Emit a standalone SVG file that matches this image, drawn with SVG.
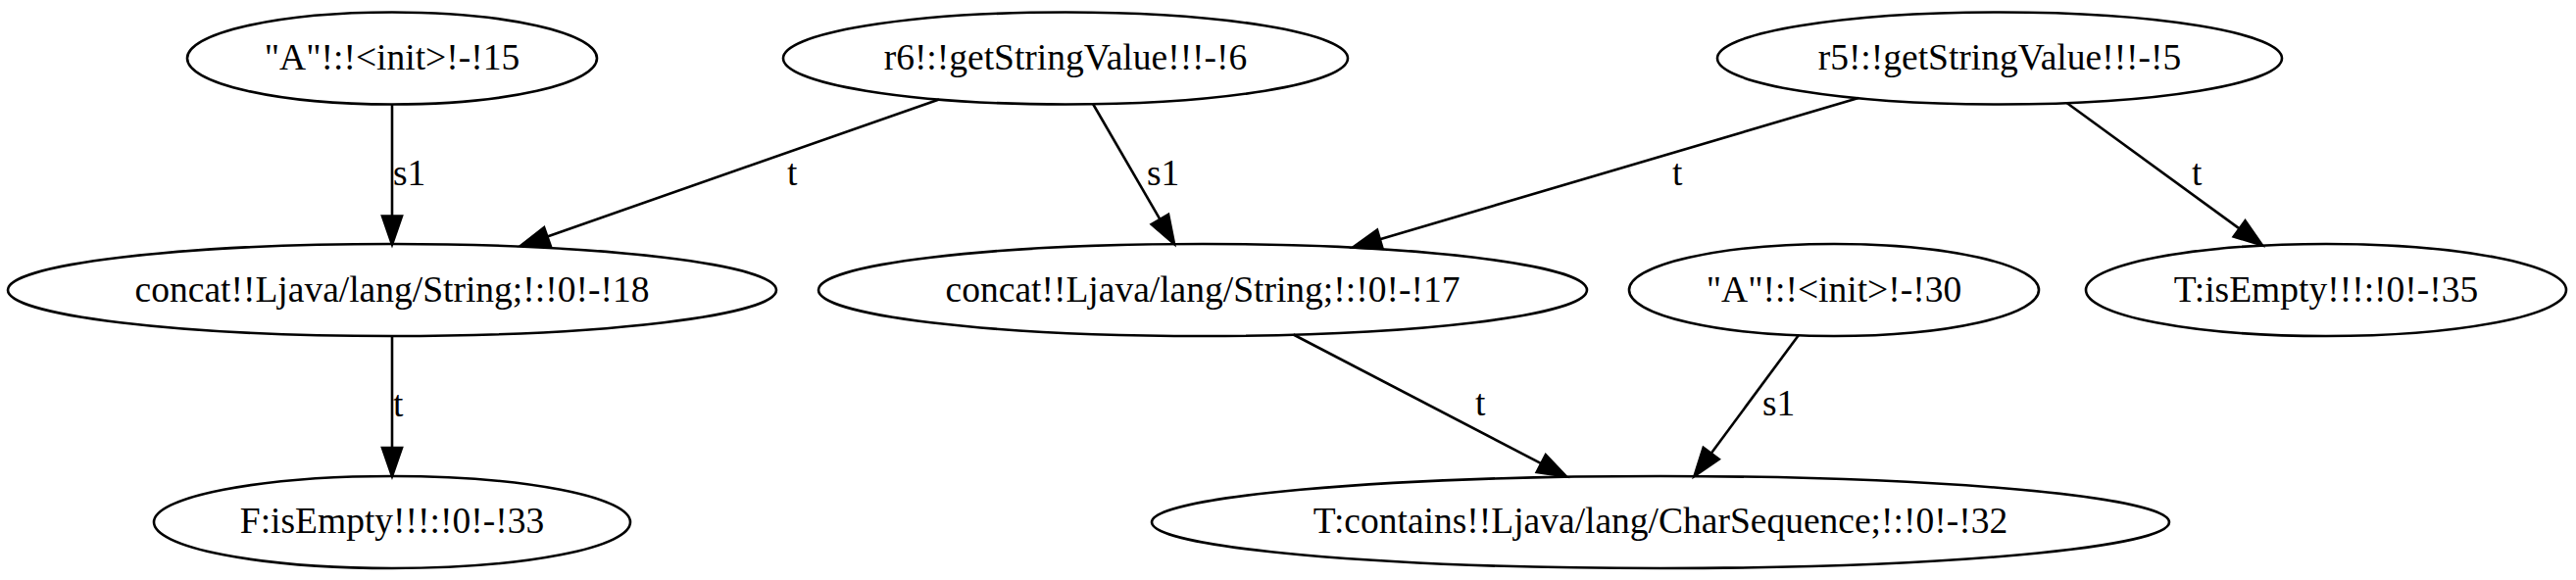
<svg xmlns="http://www.w3.org/2000/svg" width="2628" height="592" viewBox="0 0 2628 592">
<style>
.n ellipse{fill:none;stroke:#000;stroke-width:2.6}
.n text{font-family:"Liberation Serif","Times New Roman",serif;font-size:37.5px;text-anchor:middle;fill:#000}
.e line{stroke:#000;stroke-width:2.6}
.e polygon{fill:#000;stroke:#000;stroke-width:2.6}
.e text{font-family:"Liberation Serif","Times New Roman",serif;font-size:37.5px;fill:#000}
</style>
<rect width="2628" height="592" fill="#fff"/>
<g id="edges" class="e">
<g id="e1"><line x1="400" y1="107" x2="400" y2="220.5"/><polygon points="390,220.5 410,220.5 400,249.5"/><text x="401" y="189">s1</text></g>
<g id="e2"><line x1="400" y1="343" x2="400" y2="457"/><polygon points="390,457 410,457 400,486"/><text x="401" y="425">t</text></g>
<g id="e3"><line x1="958" y1="101.5" x2="558.4" y2="241.5"/><polygon points="555.1,232.1 561.7,251 531,251"/><text x="803" y="189">t</text></g>
<g id="e4"><line x1="1115" y1="106" x2="1183.4" y2="223.9"/><polygon points="1192,218.9 1174.7,228.9 1198,249"/><text x="1170" y="189">s1</text></g>
<g id="e5"><line x1="1896" y1="100" x2="1407.8" y2="244.3"/><polygon points="1405,234.7 1410.6,253.9 1380,252.5"/><text x="1706" y="189">t</text></g>
<g id="e6"><line x1="2108.5" y1="105" x2="2284.6" y2="233.4"/><polygon points="2290.5,225.3 2278.7,241.5 2308,250.5"/><text x="2236" y="189">t</text></g>
<g id="e7"><line x1="1319.5" y1="341.5" x2="1572.3" y2="473.1"/><polygon points="1576.9,464.2 1567.7,482 1598,486.5"/><text x="1505" y="424">t</text></g>
<g id="e8"><line x1="1835" y1="342" x2="1745.7" y2="462.7"/><polygon points="1737.7,456.8 1753.7,468.7 1728.5,486"/><text x="1798" y="424">s1</text></g>
</g>
<g id="A15" class="n"><ellipse cx="400" cy="59.5" rx="209" ry="47"/><text x="400" y="70.5">"A"!:!&lt;init&gt;!-!15</text></g>
<g id="r6" class="n"><ellipse cx="1087" cy="59.5" rx="288" ry="47"/><text x="1087" y="70.5">r6!:!getStringValue!!!-!6</text></g>
<g id="r5" class="n"><ellipse cx="2040" cy="59.5" rx="288" ry="47"/><text x="2040" y="70.5">r5!:!getStringValue!!!-!5</text></g>
<g id="c18" class="n"><ellipse cx="400" cy="296" rx="392" ry="47"/><text x="400" y="307.5">concat!!Ljava/lang/String;!:!0!-!18</text></g>
<g id="c17" class="n"><ellipse cx="1227" cy="296" rx="392" ry="47"/><text x="1227" y="307.5">concat!!Ljava/lang/String;!:!0!-!17</text></g>
<g id="A30" class="n"><ellipse cx="1871" cy="296" rx="209" ry="47"/><text x="1871" y="307.5">"A"!:!&lt;init&gt;!-!30</text></g>
<g id="T35" class="n"><ellipse cx="2373" cy="296" rx="245" ry="47"/><text x="2373" y="307.5">T:isEmpty!!!:!0!-!35</text></g>
<g id="F33" class="n"><ellipse cx="400" cy="533" rx="243" ry="47"/><text x="400" y="543.5">F:isEmpty!!!:!0!-!33</text></g>
<g id="T32" class="n"><ellipse cx="1694" cy="533" rx="519" ry="47"/><text x="1694" y="543.5">T:contains!!Ljava/lang/CharSequence;!:!0!-!32</text></g>
</svg>
